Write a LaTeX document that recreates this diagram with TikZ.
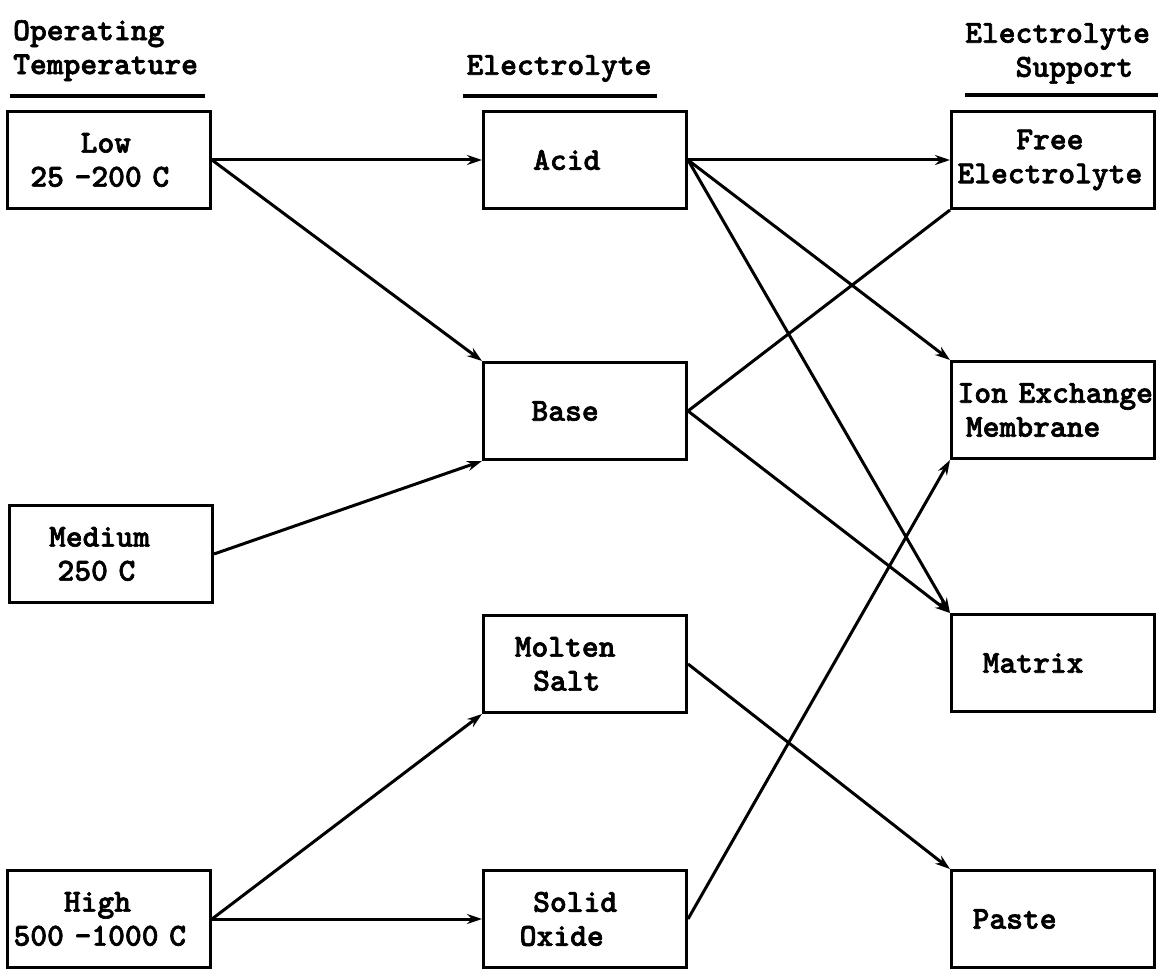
\documentclass[tikz,border=0pt]{standalone}
\usepackage{fontspec}
\usetikzlibrary{arrows.meta,positioning}

\newfontfamily\typewr{lmmonolt10-bold.otf}[FakeBold=2]
\newcommand{\tpad}[1]{\hspace*{#1\fontcharwd\font`0}}

\begin{document}
\begin{tikzpicture}[
    x=1pt, y=-1pt,
    typed/.style={font=\typewr\fontsize{32}{34}\selectfont},
    stage/.style={typed, rectangle, draw=black, line width=3pt, minimum width=203pt, minimum height=97pt, inner xsep=6pt, text width=191pt, align=left},
    heading/.style={typed, inner sep=0pt, align=left},
    rule/.style={line width=4pt},
    arrow/.style={-{Stealth[length=15pt,width=10pt]}, line width=3pt},
    plain/.style={line width=3pt}
]

\useasboundingbox (0,0) rectangle (1160,976);

% Column headings
\node[heading, anchor=north west] (hdtemp) at (13,20) {Operating\\Temperature};
\node[heading, anchor=north] (hdelec) at (559,55) {Electrolyte};
\node[heading, anchor=north west] (hdsupp) at (965,23) {Electrolyte\\\tpad{3}Support};
\draw[rule] (10,96) -- (205,96);
\draw[rule] (463,96) -- (657,96);
\draw[rule] (965,95) -- (1158,95);

% Operating temperature
\node[stage] (low) at (109,160) {\tpad{4}Low\\\tpad{1}25 -200 C};
\node[stage] (medium) at (111,554) {\tpad{2}Medium\\\tpad{2.5}250 C};
\node[stage] (high) at (109,919) {\tpad{3}High\\500 -1000 C};

% Electrolyte
\node[stage] (acid) at (585,160) {\tpad{2.6}Acid};
\node[stage] (base) at (585,411) {\tpad{2.5}Base};
\node[stage] (molten) at (585,664) {\tpad{1.5}Molten\\\tpad{2.6}Salt};
\node[stage] (solid) at (585,919) {\tpad{2.6}Solid\\\tpad{1.8}Oxide};

% Electrolyte support
\node[stage] (free) at (1053,160) {\tpad{3.5}Free\\\mbox{Electrolyte}};
\node[stage] (ion) at (1053,410) {\mbox{Ion Exchange}\\\tpad{0.5}Membrane};
\node[stage] (matrix) at (1053,663) {\tpad{1.5}Matrix};
\node[stage] (paste) at (1053,919) {\tpad{0.9}Paste};

% Temperature -> electrolyte
\draw[arrow] (low.east) -- (acid.west);
\draw[arrow] (low.east) -- (base.north west);
\draw[arrow] (medium.east) -- (base.south west);
\draw[arrow] (high.east) -- (molten.south west);
\draw[arrow] (high.east) -- (solid.west);

% Electrolyte -> support
\draw[arrow] (acid.east) -- (free.west);
\draw[arrow] (acid.east) -- (ion.north west);
\draw[arrow] (acid.east) -- (matrix.north west);
\draw[plain] (base.east) -- (free.south west);
\draw[arrow] (base.east) -- (matrix.north west);
\draw[arrow] (molten.east) -- (paste.north west);
\draw[arrow] (solid.east) -- (ion.south west);

\end{tikzpicture}
\end{document}
